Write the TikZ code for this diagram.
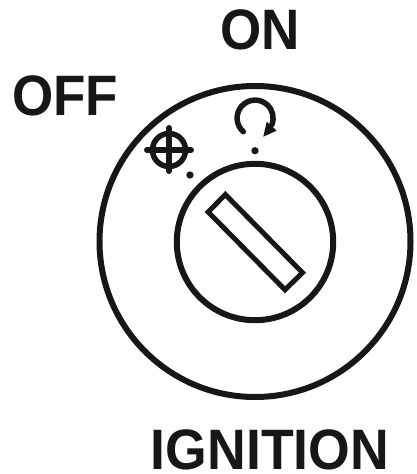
\documentclass[tikz,border=0pt]{standalone}
\usepackage{fontspec}
\setmainfont{Liberation Sans}
\definecolor{inkc}{HTML}{171717}
\newcommand{\lbl}[2]{\scalebox{#1}[1]{#2}}
\tikzset{
  px/.style={x=1pt,y=-1pt},
  ink/.style={draw=inkc,line width=6pt},
  fineink/.style={draw=inkc,line width=5.5pt,line cap=round},
  dotmark/.style={fill=inkc,circle,inner sep=0pt,minimum size=7.3pt},
  lab/.style={font=\bfseries\fontsize{57}{57}\selectfont,text=inkc,inner sep=0pt,anchor=base}
}
\begin{document}
\begin{tikzpicture}[px]
\useasboundingbox (0,0) rectangle (416,474);
\node[lab] (on) at (260,49) {\lbl{0.93}{ON}};
\node[lab] (off) at (65,115) {\lbl{0.93}{OFF}};
\node[lab] (ign) at (270,469.5) {\lbl{0.94}{IGNITION}};
\draw[ink] (255,241.5) circle (155.5);
\draw[ink] (255,242) circle (78.2);
\draw[ink,line width=5pt,line join=miter] (225.3,194.5) -- (208.2,212) -- (285,289.8) -- (302.5,272.7) -- cycle;
\node[dotmark] (d1) at (190,175) {};
\node[dotmark] (d2) at (255,150.7) {};
\draw[fineink] (169,150) circle (16.5);
\draw[fineink] (169,127.8) -- (169,171.2);
\draw[fineink] (146.8,150) -- (191.2,150);
\draw[fineink] (243.3,131.7) arc (131:382:18);
\fill[inkc] (263.3,136.7) -- (276.7,130.7) -- (266.7,121.7) -- cycle;
\end{tikzpicture}
\end{document}
